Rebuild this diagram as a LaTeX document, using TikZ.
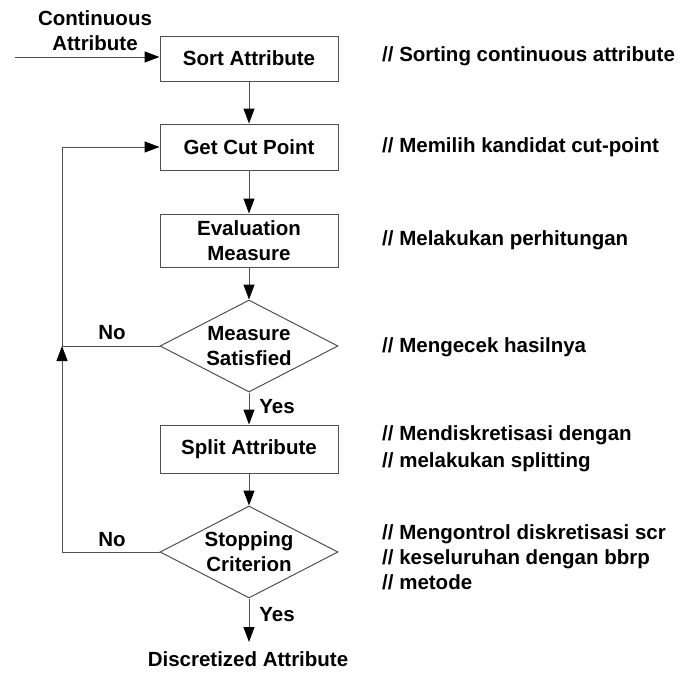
\documentclass[tikz,border=0pt]{standalone}
\usepackage{fontspec}
\setmainfont{Liberation Sans}
\usetikzlibrary{shapes.geometric,arrows.meta}
\definecolor{ln}{HTML}{505050}
\tikzset{
  every node/.style={font=\fontsize{20.5}{25}\selectfont\bfseries, inner sep=0pt},
  procbox/.style={draw=ln, line width=1pt, rectangle, minimum width=178pt, align=center},
  decis/.style={draw=ln, line width=1pt, diamond, minimum width=178pt, minimum height=92pt},
  conn/.style={draw=ln, line width=1pt, -{Triangle[length=15pt,width=11pt,color=black]}},
  plain/.style={draw=ln, line width=1pt},
  comment/.style={anchor=west, align=left},
}
\begin{document}
\begin{tikzpicture}[x=1pt,y=-1pt]
\useasboundingbox (0,0) rectangle (684,672);
% flow nodes
\node[procbox, minimum height=45pt] (sort) at (249,58.5) {Sort Attribute};
\node[procbox, minimum height=46pt] (gcp) at (249,147) {Get Cut Point};
\node[procbox, minimum height=53pt] (eval) at (249,240.5) {Evaluation\\Measure};
\node[decis] (ms) at (249,346) {};
\node[align=center] (mst) at (ms.center) {Measure\\Satisfied};
\node[procbox, minimum height=48pt] (split) at (249,449) {Split Attribute};
\node[decis] (sc) at (249,552) {};
\node[align=center] (sct) at (sc.center) {Stopping\\Criterion};
\node (out) at (248,659) {Discretized Attribute};
\node[align=center] (in) at (95,31) {Continuous\\Attribute};
% coordinates
\coordinate (start) at (15,57);
\coordinate (outend) at (249,642);
\coordinate (l1b) at (62,346);
\coordinate (l1t) at (62,147);
\coordinate (l2b) at (62,552);
% connectors
\draw[conn] (start) -- (start -| sort.west);
\draw[conn] (sort) -- (gcp);
\draw[conn] (gcp) -- (eval);
\draw[conn] (eval) -- (ms.north);
\draw[conn] (ms.south) -- (split);
\draw[conn] (split) -- (sc.north);
\draw[conn] (sc.south) -- (outend);
\draw[conn] (ms.west) -- (l1b) -- (l1t) -- (gcp.west);
\draw[plain] (sc.west) -- (l2b);
\draw[conn] (l2b) -- (l1b);
% labels
\node (no1) at (112,333) {No};
\node (no2) at (112,540) {No};
\node (yes1) at (277,407) {Yes};
\node (yes2) at (277,615) {Yes};
% comments
\node[comment] (c1) at (382,56) {// Sorting continuous attribute};
\node[comment] (c2) at (382,147) {// Memilih kandidat cut-point};
\node[comment] (c3) at (382,240) {// Melakukan perhitungan};
\node[comment] (c4) at (382,347) {// Mengecek hasilnya};
\node[comment, font=\fontsize{20.5}{27}\selectfont\bfseries] (c5) at (382,448.5) {// Mendiskretisasi dengan\\// melakukan splitting};
\node[comment] (c6) at (382,557) {// Mengontrol diskretisasi scr\\// keseluruhan dengan bbrp\\// metode};
\end{tikzpicture}
\end{document}
